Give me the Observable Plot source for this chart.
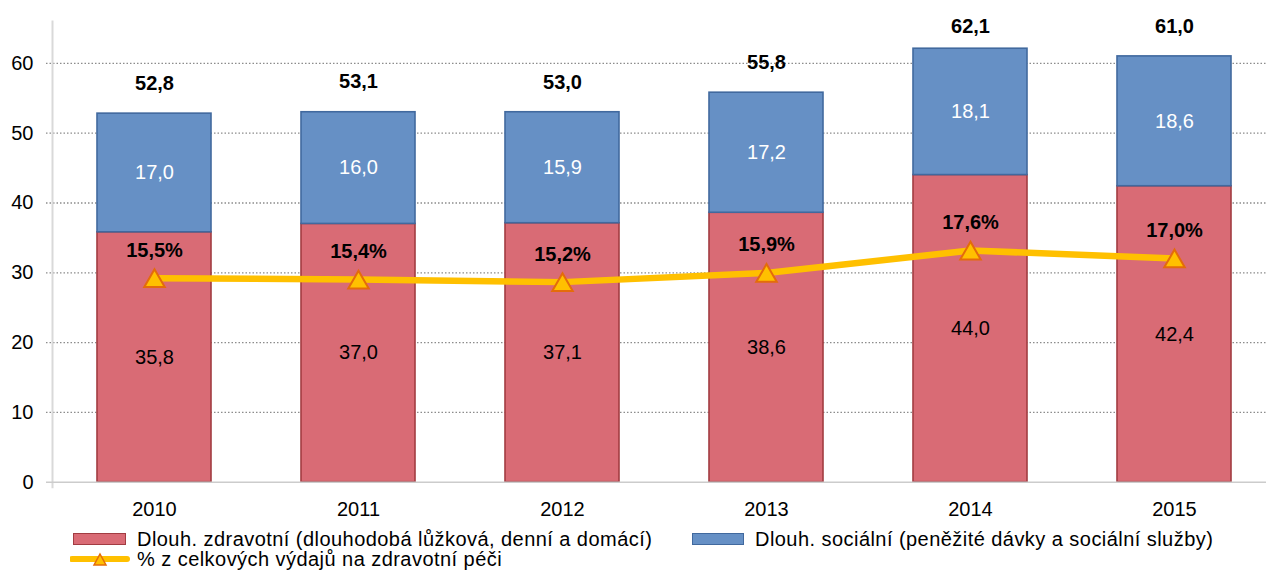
<!DOCTYPE html>
<html><head><meta charset="utf-8">
<script src="https://cdn.jsdelivr.net/npm/d3@7"></script>
<script src="https://cdn.jsdelivr.net/npm/@observablehq/plot@0.6"></script>
<style>
html,body{margin:0;padding:0;background:#fff;overflow:hidden;font-family:"Liberation Sans",Arial,sans-serif;}
#legend{position:relative;height:48px;font-size:20px;letter-spacing:0.45px;color:#000;}
.item{position:absolute;white-space:nowrap;line-height:20px;height:20px;}
.sw{position:absolute;box-sizing:border-box;}
</style></head><body>
<div id="chart"></div>
<div id="legend"></div>
<script>
const years = ["2010", "2011", "2012", "2013", "2014", "2015"];
const health = [35.8, 37.0, 37.1, 38.6, 44.0, 42.4];
const social = [17.0, 16.0, 15.9, 17.2, 18.1, 18.6];
const totals = [52.8, 53.1, 53.0, 55.8, 62.1, 61.0];
const pctOfHealth = [15.5, 15.4, 15.2, 15.9, 17.6, 17.0];
const seriesNames = [
  "Dlouh. zdravotní (dlouhodobá lůžková, denní a domácí)",
  "Dlouh. sociální (peněžité dávky a sociální služby)",
  "% z celkových výdajů na zdravotní péči"
];
const yTicks = [0, 10, 20, 30, 40, 50, 60];
const yMax = 66;      // primary axis maximum
const pctMax = 35;    // hidden secondary axis maximum (%)

const fills = ["#D96B75", "#6690C5"];
const strokes = ["#A23C42", "#41699E"];
const labelColors = ["#000000", "#ffffff"];
const lineColor = "#FFC000", markerStroke = "#E46C0A";

const fmt = v => v.toFixed(1).replace(".", ",");
const rows = years.flatMap((y, i) => [
  {year: y, s: 0, value: health[i]},
  {year: y, s: 1, value: social[i]}
]);
const yearRows = years.map((y, i) => ({year: y, pct: pctOfHealth[i], total: totals[i]}));
const toPrimary = p => p * yMax / pctMax;
const FONT = '"Liberation Sans", Arial, sans-serif';

const chart = Plot.plot({
  width: 1266, height: 522,
  marginLeft: 52, marginRight: -10.6, marginTop: 21, marginBottom: 40.3,
  style: {fontFamily: FONT, fontSize: "20px", color: "#000", background: "#fff", overflow: "visible"},
  x: {domain: years, paddingInner: 0.44, paddingOuter: 0.22, label: null, tickSize: 0, tickPadding: 20},
  y: {domain: [0, yMax], ticks: yTicks, tickFormat: d => String(d), label: null, tickSize: 0, tickPadding: 19},
  color: {type: "identity"},
  marks: [
    Plot.ruleY(yTicks.filter(t => t > 0), {stroke: "#8c8c8c", strokeWidth: 1.3, strokeDasharray: "1.5,2", insetLeft: -6}),
    Plot.frame({anchor: "left", stroke: "#d9d9d9", strokeWidth: 2, insetBottom: -5}),
    Plot.barY(rows, Plot.stackY({x: "year", y: "value", fill: d => fills[d.s], stroke: d => strokes[d.s], strokeWidth: 1.6})),
    Plot.ruleY([0], {stroke: "#cccccc", strokeWidth: 1.5, insetLeft: -6}),
    Plot.text(rows, Plot.stackY({x: "year", y: "value", text: d => fmt(d.value), fill: d => labelColors[d.s], fontSize: 20})),
    Plot.text(yearRows, {x: "year", y: d => Math.min(d.total, yMax - 5), dy: -30, text: d => fmt(d.total), fontWeight: "bold", fontSize: 20, fill: "#000"}),
    Plot.line(yearRows, {x: "year", y: d => toPrimary(d.pct), stroke: lineColor, strokeWidth: 6.5}),
    Plot.dot(yearRows, {x: "year", y: d => toPrimary(d.pct), symbol: "triangle", r: 7.6, dy: 3, fill: lineColor, stroke: markerStroke, strokeWidth: 2}),
    Plot.text(yearRows, {x: "year", y: d => toPrimary(d.pct), dy: -28, text: d => fmt(d.pct) + "%", fontWeight: "bold", fontSize: 20, fill: "#000"})
  ]
});
document.getElementById("chart").appendChild(chart);

// Legend
const lg = document.getElementById("legend");
lg.innerHTML = `
  <div class="sw" style="left:73px;top:11px;width:53px;height:12px;background:${fills[0]};border:1.5px solid ${strokes[0]}"></div>
  <div class="item" style="left:137px;top:7px">${seriesNames[0]}</div>
  <div class="sw" style="left:692px;top:11px;width:52px;height:12px;background:${fills[1]};border:1.5px solid ${strokes[1]}"></div>
  <div class="item" style="left:755px;top:7px">${seriesNames[1]}</div>
  <svg style="position:absolute;left:70px;top:27px" width="60" height="21">
    <line x1="2" x2="57" y1="10" y2="10" stroke="${lineColor}" stroke-width="6" stroke-linecap="round"/>
    <path d="M30,5 L36,16 L24,16 Z" fill="${lineColor}" stroke="${markerStroke}" stroke-width="1.5"/>
  </svg>
  <div class="item" style="left:137px;top:27px">${seriesNames[2]}</div>
`;
</script>
</body></html>
